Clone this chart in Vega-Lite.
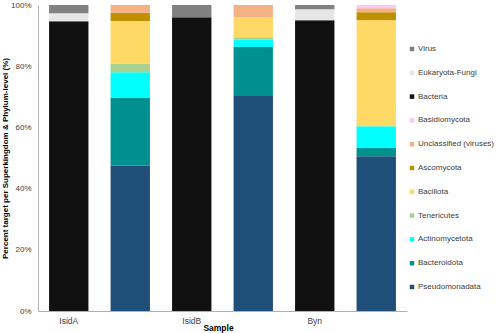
{
  "$schema": "https://vega.github.io/schema/vega-lite/v6.json",
  "width": 369,
  "height": 306,
  "autosize": "none",
  "padding": {"left": 38, "top": 5, "right": 90, "bottom": 22},
  "background": "white",
  "config": {
    "view": {"stroke": null},
    "font": "Liberation Sans"
  },
  "data": {
    "values": [
      {"sample": "IsidA", "taxon": "Bacteria", "pct": 94.7},
      {"sample": "IsidA", "taxon": "Eukaryota-Fungi", "pct": 2.6},
      {"sample": "IsidA", "taxon": "Virus", "pct": 2.7},
      {"sample": "IsidA_p", "taxon": "Pseudomonadata", "pct": 47.5},
      {"sample": "IsidA_p", "taxon": "Bacteroidota", "pct": 22.1},
      {"sample": "IsidA_p", "taxon": "Actinomycetota", "pct": 8.4},
      {"sample": "IsidA_p", "taxon": "Tenericutes", "pct": 2.9},
      {"sample": "IsidA_p", "taxon": "Bacillota", "pct": 13.85},
      {"sample": "IsidA_p", "taxon": "Ascomycota", "pct": 2.75},
      {"sample": "IsidA_p", "taxon": "Unclassified (viruses)", "pct": 2.5},
      {"sample": "IsidB", "taxon": "Bacteria", "pct": 96.0},
      {"sample": "IsidB", "taxon": "Virus", "pct": 4.0},
      {"sample": "IsidB_p", "taxon": "Pseudomonadata", "pct": 70.3},
      {"sample": "IsidB_p", "taxon": "Bacteroidota", "pct": 16.0},
      {"sample": "IsidB_p", "taxon": "Actinomycetota", "pct": 2.4},
      {"sample": "IsidB_p", "taxon": "Tenericutes", "pct": 0.8},
      {"sample": "IsidB_p", "taxon": "Bacillota", "pct": 6.5},
      {"sample": "IsidB_p", "taxon": "Unclassified (viruses)", "pct": 4.0},
      {"sample": "Byn", "taxon": "Bacteria", "pct": 95.0},
      {"sample": "Byn", "taxon": "Eukaryota-Fungi", "pct": 3.6},
      {"sample": "Byn", "taxon": "Virus", "pct": 1.4},
      {"sample": "Byn_p", "taxon": "Pseudomonadata", "pct": 50.6},
      {"sample": "Byn_p", "taxon": "Bacteroidota", "pct": 2.7},
      {"sample": "Byn_p", "taxon": "Actinomycetota", "pct": 7.1},
      {"sample": "Byn_p", "taxon": "Bacillota", "pct": 34.6},
      {"sample": "Byn_p", "taxon": "Ascomycota", "pct": 2.6},
      {"sample": "Byn_p", "taxon": "Unclassified (viruses)", "pct": 1.3},
      {"sample": "Byn_p", "taxon": "Basidiomycota", "pct": 1.1}
    ]
  },
  "transform": [
    {"calculate": "indexof(['Pseudomonadata', 'Bacteroidota', 'Actinomycetota', 'Tenericutes', 'Bacillota', 'Ascomycota', 'Unclassified (viruses)', 'Basidiomycota', 'Bacteria', 'Eukaryota-Fungi', 'Virus'], datum.taxon)", "as": "stackrank"}
  ],
  "mark": {"type": "bar"},
  "encoding": {
    "x": {
      "field": "sample",
      "type": "nominal",
      "sort": ["IsidA", "IsidA_p", "IsidB", "IsidB_p", "Byn", "Byn_p"],
      "scale": {"paddingInner": 0.36, "paddingOuter": 0.18},
      "axis": {
        "title": "Sample",
        "titleFontSize": 8.5,
        "titleFontWeight": "bold",
        "titleColor": "#000000",
        "titleX": 180,
        "titleY": 19,
        "titleBaseline": "alphabetic",
        "labelAngle": 0,
        "labelFontSize": 8.5,
        "labelColor": "#404040",
        "labelPadding": 5,
        "labelExpr": "indexof(datum.value, '_p') >= 0 ? '' : datum.value",
        "ticks": false,
        "domainColor": "#b0b0b0"
      }
    },
    "y": {
      "field": "pct",
      "type": "quantitative",
      "stack": "zero",
      "scale": {"domain": [0, 100], "nice": false},
      "axis": {
        "title": "Percent target per Superkingdom & Phylum-level (%)",
        "titleFontSize": 8,
        "titleFontWeight": "bold",
        "titleColor": "#000000",
        "titleX": -29,
        "values": [0, 20, 40, 60, 80, 100],
        "labelExpr": "datum.value + '%'",
        "labelFontSize": 8,
        "labelColor": "#404040",
        "labelPadding": 7,
        "ticks": false,
        "grid": false,
        "domainColor": "#b0b0b0"
      }
    },
    "order": {"field": "stackrank", "type": "quantitative", "sort": "ascending"},
    "color": {
      "field": "taxon",
      "type": "nominal",
      "scale": {
        "domain": ["Virus", "Eukaryota-Fungi", "Bacteria", "Basidiomycota", "Unclassified (viruses)", "Ascomycota", "Bacillota", "Tenericutes", "Actinomycetota", "Bacteroidota", "Pseudomonadata"],
        "range": ["#808080", "#e6e6e6", "#111111", "#f9c9f4", "#f4b183", "#bf9000", "#ffd966", "#a9d18e", "#00ffff", "#009090", "#1f4e79"]
      },
      "legend": {
        "title": null,
        "orient": "none",
        "legendX": 370,
        "legendY": 40,
        "symbolType": "square",
        "symbolSize": 20,
        "symbolStrokeWidth": 0,
        "labelFontSize": 8,
        "labelColor": "#404040",
        "labelOffset": 2,
        "rowPadding": 15.8,
        "labelLimit": 200
      }
    }
  }
}
